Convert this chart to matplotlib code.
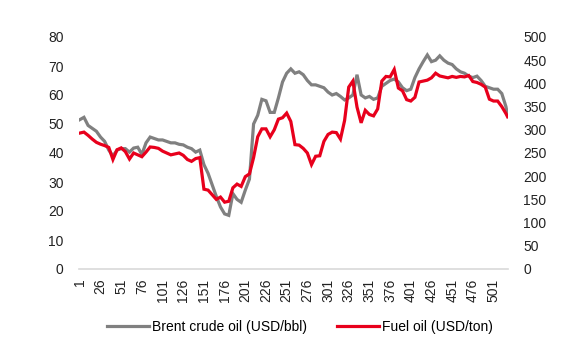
import matplotlib.pyplot as plt
import numpy as np

plt.rcParams['font.family'] = ['Liberation Sans Narrow', 'Liberation Sans', 'DejaVu Sans']

# day index (every 5th trading day, plus the last one)
days = list(range(1, 517, 5)) + [518]

# Brent crude oil, USD/bbl (left axis)
brent = [51.5, 52.3, 49.5, 48.5, 47.5, 45.5, 44.0, 41.0, 39.0, 41.0,
         41.5, 41.5, 40.3, 41.7, 42.0, 39.5, 43.5, 45.5, 45.0, 44.5,
         44.5, 44.0, 43.5, 43.5, 43.0, 42.8, 42.0, 41.5, 40.3, 41.0,
         36.0, 33.0, 29.0, 25.0, 21.4, 19.0, 18.5, 26.0, 24.0, 23.0,
         27.2, 31.0, 50.0, 53.0, 58.5, 58.0, 54.0, 54.0, 59.0, 64.5,
         67.5, 69.0, 67.5, 68.0, 67.0, 65.0, 63.5, 63.5, 63.0, 62.5,
         61.0, 60.0, 60.5, 59.5, 58.3, 59.0, 60.0, 67.0, 60.0, 59.0,
         59.5, 58.5, 59.0, 63.0, 64.0, 65.0, 65.5, 64.5, 62.5, 61.5,
         62.0, 66.0, 69.0, 71.5, 73.8, 71.5, 72.0, 73.5, 72.0, 71.0,
         70.5, 69.0, 68.0, 67.5, 66.5, 66.0, 66.5, 65.0, 63.0, 62.5,
         62.0, 62.0, 60.5, 56.0, 53.0]

# Fuel oil, USD/ton (right axis)
fuel = [293, 295, 288, 280, 273, 269, 266, 262, 236, 257,
        261, 253, 237, 250, 246, 242, 252, 263, 262, 260,
        254, 250, 246, 248, 250, 245, 236, 232, 238, 240,
        172, 170, 160, 150, 155, 144, 146, 175, 183, 178,
        199, 205, 240, 285, 302, 302, 285, 300, 323, 326,
        336, 318, 268, 267, 260, 250, 225, 243, 244, 275,
        290, 295, 294, 280, 320, 392, 405, 349, 315, 342,
        333, 330, 345, 405, 415, 414, 430, 390, 384, 365,
        362, 370, 403, 405, 407, 412, 422, 416, 414, 412,
        415, 413, 415, 414, 417, 404, 402, 398, 392, 366,
        362, 362, 350, 335, 328]

xticks = list(range(1, 502, 25))

fig = plt.figure(figsize=(5.82, 3.59), dpi=100)
ax = fig.add_axes([79 / 582, 90 / 359, 429 / 582, 232 / 359])
ax2 = ax.twinx()

l1, = ax.plot(days, brent, color='#808080', lw=2.3, solid_joinstyle='miter')
l2, = ax2.plot(days, fuel, color='#e8001c', lw=2.3, solid_joinstyle='miter')

ax.set_xlim(0, 518.5)
ax.set_ylim(0, 80)
ax2.set_ylim(0, 500)
ax.set_yticks(range(0, 81, 10))
ax2.set_yticks(range(0, 501, 50))
ax.set_xticks(xticks)
ax.set_xticklabels([str(t) for t in xticks], rotation=90)

for a in (ax, ax2):
    for s in a.spines.values():
        s.set_visible(False)
    a.tick_params(length=0, labelsize=10, colors='#222222')
ax.spines['bottom'].set_visible(True)
ax.spines['bottom'].set_color('#d9d9d9')
ax.spines['bottom'].set_linewidth(1.2)
ax.tick_params(axis='y', pad=11)
ax.tick_params(axis='x', pad=7)
ax2.tick_params(axis='y', pad=11)

fig.legend([l1, l2], ['Brent crude oil (USD/bbl)', 'Fuel oil (USD/ton)'],
           loc='center', bbox_to_anchor=(300 / 582, 32 / 359), ncol=2,
           frameon=False, fontsize=10, handlelength=3.0, handletextpad=0.2,
           columnspacing=2.2)

fig.savefig('out.png', dpi=100)
